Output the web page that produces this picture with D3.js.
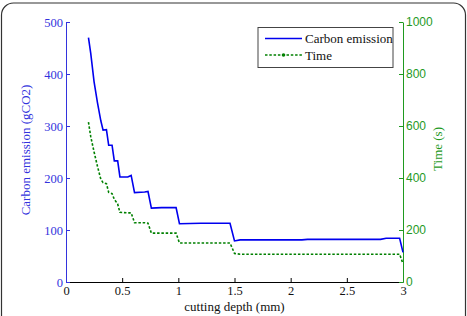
<!DOCTYPE html>
<html>
<head>
<meta charset="utf-8">
<script src="https://cdn.jsdelivr.net/npm/d3@7"></script>
<style>
body { margin: 0; background: #fff; }
svg { display: block; }
</style>
</head>
<body>
<div class="chart"></div>
<script>
// cutting depth (mm)
depth = [0.2, 0.22, 0.25, 0.28, 0.31, 0.33, 0.36, 0.38, 0.41, 0.43, 0.46, 0.48, 0.55, 0.58, 0.61, 0.7, 0.73, 0.76, 0.85, 0.98, 1.01, 1.2, 1.46, 1.5, 1.55, 2.1, 2.15, 2.8, 2.85, 2.97, 3.0];
// carbon emission (gCO2)
carbon = [470, 440, 385, 345, 310, 292, 293, 263, 263, 233, 233, 202, 202, 205, 172, 173, 174, 142, 143, 143, 112, 113, 113, 79, 81, 81, 82, 82, 84, 84, 57];
// time (s)
time = [615, 560, 500, 445, 395, 382, 378, 345, 340, 318, 300, 268, 266, 266, 228, 228, 226, 188, 188, 188, 150, 150, 150, 110, 107, 107, 107, 107, 107, 107, 70];

xTicks = [0, 0.5, 1, 1.5, 2, 2.5, 3];
leftTicks = [0, 100, 200, 300, 400, 500];
rightTicks = [0, 200, 400, 600, 800, 1000];

var w = 467, h = 316;
var padL = 66, padR = 403, padT = 22, padB = 282;
var blue = "#0000ee", blueAxis = "#3333dd", green = "#008000", greenAxis = "#1f9a1f";
var serif = "'Liberation Serif', 'Times New Roman', serif";
var sans = "'Liberation Sans', Arial, sans-serif";

var svg = d3.select(".chart").append("svg")
	.attr("width", w)
	.attr("height", h)
	.style("font-family", serif);

// outer rounded frame
svg.append("rect")
	.attr("x", 1.5).attr("y", 3)
	.attr("width", 464).attr("height", 340)
	.attr("rx", 12)
	.attr("fill", "none")
	.attr("stroke", "#333")
	.attr("stroke-width", 1.2);

var xScale = d3.scaleLinear().domain([0, 3]).range([padL, padR]);
var yLeft = d3.scaleLinear().domain([0, 500]).range([padB, padT]);
var yRight = d3.scaleLinear().domain([0, 1000]).range([padB, padT]);

// X axis
var gx = svg.append("g")
	.attr("transform", "translate(0," + padB + ")")
	.call(d3.axisBottom(xScale).tickValues(xTicks).tickFormat(d3.format("")).tickSize(-4).tickSizeOuter(0).tickPadding(4));
gx.selectAll("text").attr("font-size", "12.5px").attr("fill", "#111").style("font-family", serif);
gx.selectAll("line,path").attr("stroke", "#000");

// left axis
var gl = svg.append("g")
	.attr("transform", "translate(" + padL + ",0)")
	.call(d3.axisLeft(yLeft).tickValues(leftTicks).tickFormat(d3.format("")).tickSize(-4).tickSizeOuter(0).tickPadding(3));
gl.selectAll("text").attr("font-size", "12.5px").attr("fill", blueAxis).style("font-family", serif);
gl.selectAll("line,path").attr("stroke", blueAxis);

// right axis
var gr = svg.append("g")
	.attr("transform", "translate(" + padR + ",0)")
	.call(d3.axisRight(yRight).tickValues(rightTicks).tickFormat(d3.format("")).tickSize(-4).tickSizeOuter(0).tickPadding(3));
gr.selectAll("text").attr("font-size", "12px").attr("fill", greenAxis).style("font-family", sans);
gr.selectAll("line,path").attr("stroke", greenAxis);

// lines
var carbonLine = d3.line().x((d, i) => xScale(depth[i])).y(d => yLeft(d));
var timeLine = d3.line().x((d, i) => xScale(depth[i])).y(d => yRight(d));

svg.append("path")
	.attr("d", timeLine(time))
	.attr("fill", "none")
	.attr("stroke", green)
	.attr("stroke-width", 1.6)
	.attr("stroke-dasharray", "2.5,1.8");

svg.append("path")
	.attr("d", carbonLine(carbon))
	.attr("fill", "none")
	.attr("stroke", blue)
	.attr("stroke-width", 1.6);

// axis titles
svg.append("text")
	.attr("transform", "translate(30," + ((padT + padB) / 2 - 2) + ") rotate(-90)")
	.attr("text-anchor", "middle")
	.attr("font-size", "13px")
	.attr("fill", blueAxis)
	.text("Carbon emission (gCO2)");

svg.append("text")
	.attr("transform", "translate(442," + ((padT + padB) / 2 - 3) + ") rotate(-90)")
	.attr("text-anchor", "middle")
	.attr("font-size", "13px")
	.attr("fill", greenAxis)
	.text("Time (s)");

svg.append("text")
	.attr("x", (padL + padR) / 2)
	.attr("y", 311)
	.attr("text-anchor", "middle")
	.attr("font-size", "13px")
	.attr("fill", "#111")
	.text("cutting depth (mm)");

// legend
var lg = svg.append("g").attr("transform", "translate(258,27.5)");
lg.append("rect")
	.attr("width", 135).attr("height", 40)
	.attr("fill", "#fff")
	.attr("stroke", "#444");
lg.append("line")
	.attr("x1", 7).attr("x2", 44).attr("y1", 11).attr("y2", 11)
	.attr("stroke", blue).attr("stroke-width", 1.6);
lg.append("text")
	.attr("x", 47).attr("y", 15.5)
	.attr("font-size", "13px").attr("fill", "#111")
	.text("Carbon emission");
lg.append("line")
	.attr("x1", 7).attr("x2", 44).attr("y1", 27.5).attr("y2", 27.5)
	.attr("stroke", green).attr("stroke-width", 1.6)
	.attr("stroke-dasharray", "2.5,1.8");
lg.append("circle")
	.attr("cx", 25.5).attr("cy", 27.5).attr("r", 1.8)
	.attr("fill", green);
lg.append("text")
	.attr("x", 47).attr("y", 32)
	.attr("font-size", "13px").attr("fill", "#111")
	.text("Time");
</script>
</body>
</html>
